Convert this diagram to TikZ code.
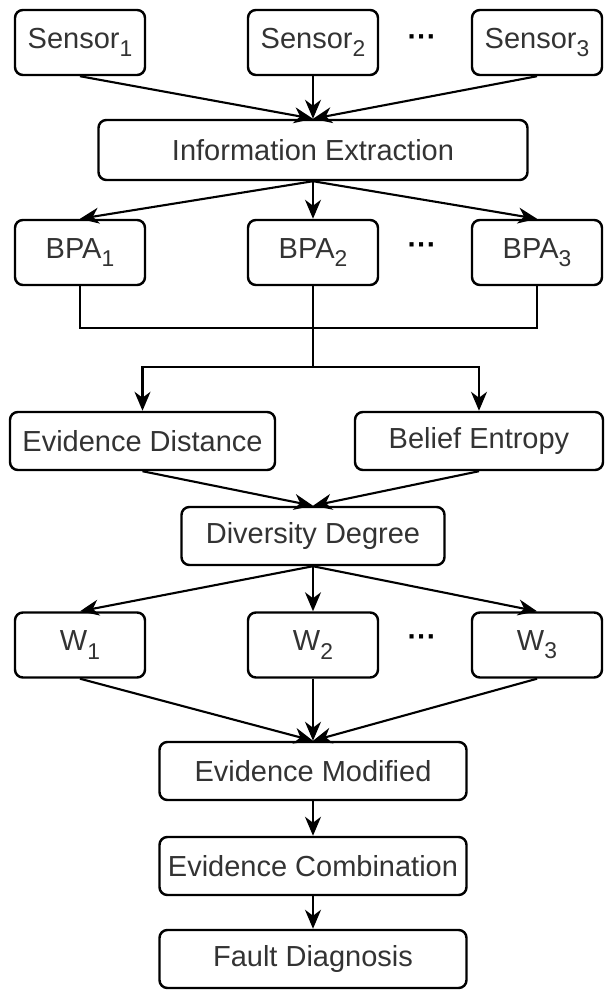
\documentclass[tikz,border=0pt]{standalone}
\usepackage{fontspec}
\setmainfont{Liberation Sans}
\usetikzlibrary{arrows.meta}
\newcommand{\lowidx}[1]{\raisebox{-0.28em}{\fontsize{13}{13}\selectfont #1}}

\begin{document}
\begin{tikzpicture}[
    box/.style={rectangle, draw, rounded corners=4.5pt, line width=1.4pt, minimum width=2.6cm, minimum height=1.3cm, align=center, text=black!80, font=\fontsize{16.5}{20}\selectfont},
    widebox/.style={box, minimum height=1.16cm},
    ellip/.style={font=\fontsize{16.5}{20}\selectfont\bfseries},
    arrow/.style={-{Stealth[length=3.8mm, width=3.2mm, inset=1.2mm]}, line width=1.2pt},
    line/.style={line width=1.2pt}
]

\useasboundingbox (0,0) rectangle (12.12,19.8);

\node[box] (sensorA) at (1.6, 18.95) {Sensor\lowidx{1}};
\node[box] (sensorB) at (6.26, 18.95) {Sensor\lowidx{2}};
\node[box] (sensorC) at (10.74, 18.95) {Sensor\lowidx{3}};
\node[ellip] (dotsA) at (8.44, 18.99) {\textperiodcentered\textperiodcentered\textperiodcentered};

\node[widebox, minimum width=8.58cm, minimum height=1.2cm] (extract) at (6.26, 16.8) {Information Extraction};

\node[box] (bpaA) at (1.6, 14.75) {BPA\lowidx{1}};
\node[box] (bpaB) at (6.26, 14.75) {BPA\lowidx{2}};
\node[box] (bpaC) at (10.74, 14.75) {BPA\lowidx{3}};
\node[ellip] (dotsB) at (8.44, 14.83) {\textperiodcentered\textperiodcentered\textperiodcentered};

\coordinate (bus) at (6.26, 13.24);
\coordinate (split) at (6.26, 12.46);

\node[widebox, minimum width=5.3cm] (dist) at (2.85, 10.98) {Evidence Distance};
\node[widebox, minimum width=4.96cm] (entropy) at (9.58, 10.98) {Belief Entropy};

\node[widebox, minimum width=5.26cm] (degree) at (6.26, 9.08) {Diversity Degree};

\node[box] (wA) at (1.6, 6.9) {W\lowidx{1}};
\node[box] (wB) at (6.26, 6.9) {W\lowidx{2}};
\node[box] (wC) at (10.74, 6.9) {W\lowidx{3}};
\node[ellip] (dotsC) at (8.44, 6.98) {\textperiodcentered\textperiodcentered\textperiodcentered};

\node[widebox, minimum width=6.14cm] (modify) at (6.26, 4.38) {Evidence Modified};
\node[widebox, minimum width=6.14cm] (combine) at (6.26, 2.48) {Evidence Combination};
\node[widebox, minimum width=6.14cm] (fault) at (6.26, 0.62) {Fault Diagnosis};

\draw[arrow] (sensorA.south) -- (extract.north);
\draw[arrow] (sensorB.south) -- (extract.north);
\draw[arrow] (sensorC.south) -- (extract.north);

\draw[arrow] (extract.south) -- (bpaA.north);
\draw[arrow] (extract.south) -- (bpaB.north);
\draw[arrow] (extract.south) -- (bpaC.north);

\draw[line] (bpaA.south) |- (bus) -| (bpaC.south);
\draw[line] (bpaB.south) -- (split);
\draw[arrow] (split) -| (dist.north);
\draw[arrow] (split) -| (entropy.north);

\draw[arrow] (dist.south) -- (degree.north);
\draw[arrow] (entropy.south) -- (degree.north);

\draw[arrow] (degree.south) -- (wA.north);
\draw[arrow] (degree.south) -- (wB.north);
\draw[arrow] (degree.south) -- (wC.north);

\draw[arrow] (wA.south) -- (modify.north);
\draw[arrow] (wB.south) -- (modify.north);
\draw[arrow] (wC.south) -- (modify.north);

\draw[arrow] (modify) -- (combine);
\draw[arrow] (combine) -- (fault);

\end{tikzpicture}
\end{document}
